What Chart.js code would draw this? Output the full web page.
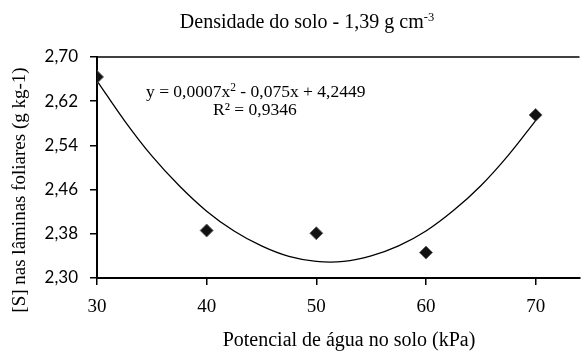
<!DOCTYPE html>
<html>
<head>
<meta charset="utf-8">
<script src="https://cdn.jsdelivr.net/npm/chart.js@4"></script>
<style>
    html, body { margin: 0; padding: 0; background: #fff; }
</style>
</head>
<body>
<canvas id="chart" width="587" height="351"></canvas>
<script>
// valores
const potencial = [30, 40, 50, 60, 70];
const enxofre = [2.664, 2.386, 2.381, 2.346, 2.595];
// pontos lidos sobre a linha de tendência
const trendX = [30, 32.5, 35, 37.5, 40, 42.5, 45, 47.5, 50, 52.5, 55, 57.5, 60, 62.5, 65, 67.5, 70];
const trendY = [2.657, 2.585, 2.521, 2.467, 2.421, 2.385, 2.358, 2.339, 2.330, 2.330, 2.340, 2.358, 2.385, 2.422, 2.467, 2.522, 2.585];
const xTicks = [30, 40, 50, 60, 70];
const yTicks = [2.30, 2.38, 2.46, 2.54, 2.62, 2.70];

const SERIF = '"Liberation Serif", "Times New Roman", serif';

function drawSup(ctx, parts, x, y, align) {
    // parts: [texto, tamanho, deslocamento]
    let total = 0;
    parts.forEach(p => { ctx.font = p[1] + 'px ' + SERIF; total += ctx.measureText(p[0]).width; });
    let cx = align === 'center' ? x - total / 2 : x;
    ctx.textAlign = 'left';
    ctx.textBaseline = 'alphabetic';
    parts.forEach(p => {
        ctx.font = p[1] + 'px ' + SERIF;
        ctx.fillText(p[0], cx, y - p[2]);
        cx += ctx.measureText(p[0]).width;
    });
}

const textos = {
    id: 'textos',
    afterDraw(chart) {
        const ctx = chart.ctx;
        const area = chart.chartArea;
        ctx.save();
        // borda superior
        ctx.strokeStyle = '#000';
        ctx.lineWidth = 1.5;
        ctx.beginPath();
        ctx.moveTo(area.left, area.top);
        ctx.lineTo(area.right, area.top);
        ctx.stroke();

        ctx.fillStyle = '#000';
        drawSup(ctx, [['Densidade do solo - 1,39 g cm', 20, 0], ['-3', 12.5, 7]], 307, 28, 'center');
        drawSup(ctx, [['y = 0,0007x', 17.5, 0], ['2', 11.5, 6], [' - 0,075x + 4,2449', 17.5, 0]], 146, 97, 'left');
        drawSup(ctx, [['R² = 0,9346', 17.5, 0]], 213, 115, 'left');
        drawSup(ctx, [['Potencial de água no solo (kPa)', 20, 0]], 349, 346, 'center');

        ctx.translate(25, 190);
        ctx.rotate(-Math.PI / 2);
        drawSup(ctx, [['[S] nas lâminas foliares (g kg-1)', 19, 0]], 0, 0, 'center');
        ctx.restore();
    }
};

new Chart(document.getElementById('chart'), {
    data: {
        datasets: [
            {
                type: 'scatter',
                data: potencial.map((x, i) => ({ x: x, y: enxofre[i] })),
                pointStyle: 'rectRot',
                pointRadius: 6.5,
                pointHoverRadius: 6.5,
                backgroundColor: '#111',
                borderColor: '#666',
                borderWidth: 1,
                order: 0
            },
            {
                type: 'line',
                data: trendX.map((x, i) => ({ x: x, y: trendY[i] })),
                borderColor: '#000',
                borderWidth: 1.3,
                pointRadius: 0,
                tension: 0.4,
                fill: false,
                order: 1
            }
        ]
    },
    options: {
        responsive: false,
        animation: false,
        devicePixelRatio: 1,
        layout: { padding: { top: 57, right: 0, bottom: 0, left: 0 } },
        plugins: { legend: { display: false }, tooltip: { enabled: false } },
        scales: {
            x: {
                type: 'linear',
                min: 30,
                max: 74,
                afterFit: s => { s.height = 73; },
                afterBuildTicks: s => { s.ticks = xTicks.map(v => ({ value: v })); },
                grid: { drawOnChartArea: false, drawTicks: true, tickLength: 7, color: '#000', lineWidth: 1.5 },
                border: { display: true, color: '#000', width: 2 },
                ticks: { color: '#000', padding: 11, font: { family: SERIF, size: 19 }, maxRotation: 0 }
            },
            y: {
                type: 'linear',
                min: 2.30,
                max: 2.70,
                afterFit: s => { s.width = 97; },
                afterBuildTicks: s => { s.ticks = yTicks.map(v => ({ value: v })); },
                grid: { drawOnChartArea: false, drawTicks: true, tickLength: 7, color: '#000', lineWidth: 1.5 },
                border: { display: true, color: '#000', width: 2 },
                ticks: {
                    color: '#000',
                    padding: 12,
                    font: { family: 'Lato', size: 17 },
                    callback: v => v.toFixed(2).replace('.', ',')
                }
            }
        }
    },
    plugins: [textos]
});
</script>
</body>
</html>
